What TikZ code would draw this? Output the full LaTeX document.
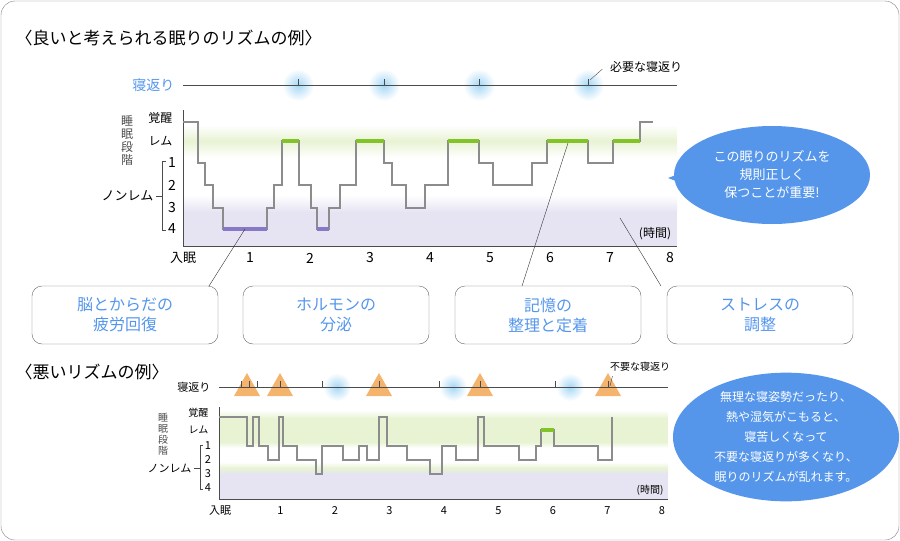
\documentclass[tikz,border=0pt]{standalone}
\usepackage{fontspec}
\setmainfont{Noto Sans CJK JP}
\usetikzlibrary{shapes.geometric}
\definecolor{skyblue}{RGB}{85,150,235}
\definecolor{remgreen}{RGB}{130,195,40}
\definecolor{deepgray}{RGB}{140,140,140}
\definecolor{lilac}{RGB}{135,120,200}
\definecolor{tricolor}{RGB}{245,180,110}
\definecolor{paleband}{RGB}{232,243,212}
\definecolor{deepband}{RGB}{230,228,243}
\definecolor{glowblue}{RGB}{165,215,245}
\tikzset{
  stepline/.style={draw=deepgray, line width=1.3pt},
  axisline/.style={draw=black!70, line width=0.8pt},
  infobox/.style={draw=black!60, rounded corners=10pt, minimum width=186pt,
    minimum height=58pt, align=center, font=\fontsize{16}{20}\selectfont, text=skyblue},
  callout/.style={ellipse, fill=skyblue, text=white, align=center, inner sep=0pt},
  glow/.style={inner color=glowblue, outer color=white},
}
\begin{document}
\begin{tikzpicture}[x=1pt, y=-1pt]
    \useasboundingbox (0,0) rectangle (900,541);
    % frame
    \draw[black!50, rounded corners=14pt] (1,1) rectangle (899,540);

    % ===== good rhythm =====
    \node[anchor=west, font=\fontsize{17}{20}\selectfont] (goodtitle) at (12,38) {〈良いと考えられる眠りのリズムの例〉};

    % bands
    \shade[top color=white, bottom color=paleband] (183,125) rectangle (677,141);
    \shade[top color=paleband, bottom color=white] (183,141) rectangle (677,158);
    \shade[top color=white, bottom color=deepband] (183,195) rectangle (677,212);
    \fill[deepband] (183,212) rectangle (677,246);

    % turnovers
    \foreach \x in {298,384,479,588} \shade[glow] (\x,85) circle (16pt);
    \draw[axisline] (183,85) -- (677,85);
    \foreach \x in {298,384,479,588} \draw[axisline] (\x,79) -- (\x,85);
    \node[anchor=east, text=skyblue, font=\fontsize{14}{16}\selectfont] (turnlabel) at (178,85) {寝返り};
    \node[font=\fontsize{12}{14}\selectfont] (needed) at (646,67) {必要な寝返り};
    \draw[black!70] (needed.west) ++(-4,2) -- (590,80);

    % stage labels
    \node[font=\fontsize{12}{13}\selectfont, align=center, text=black!70, inner sep=0pt] (stage) at (127,140) {睡\\眠\\段\\階};
    \node[anchor=east, font=\fontsize{12}{14}\selectfont] at (176,118) {覚醒};
    \node[anchor=east, font=\fontsize{12}{14}\selectfont] at (176,141) {レム};
    \foreach \n/\y in {1/163,2/185,3/208,4/229}
        \node[font=\fontsize{14}{16}\selectfont] at (172,\y) {\n};
    \draw[black!70] (166,161) -- (162,161) -- (162,230) -- (166,230);
    \draw[black!70] (156,196) -- (162,196);
    \node[anchor=east, font=\fontsize{13}{15}\selectfont] (nonrem) at (157,196) {ノンレム};

    % axes
    \draw[axisline] (183,110) -- (183,246) -- (677,246);
    \node[font=\fontsize{13}{15}\selectfont] at (183,258) {入眠};
    \foreach \h in {1,...,8}
        \node[font=\fontsize{14}{16}\selectfont] at (190+60*\h,258) {\h};
    \node[font=\fontsize{12}{14}\selectfont] at (655,234) {(時間)};

    % sleep curve
    \draw[stepline] (183,122) -| (198,163) -| (205,185) -| (213,208) -| (223,229)
        -| (267,208) -| (274,185) -| (282,141) -| (299,185) -| (311,208) -| (317,229)
        -| (329,208) -| (340,185) -| (356,141) -| (384,163) -| (392,185) -| (406,208)
        -| (425,185) -| (448,141) -| (479,163) -| (493,185) -| (532,163) -| (547,141)
        -| (588,163) -| (613,141) -| (640,122) -- (653,122);
    \foreach \a/\b in {282/299,356/384,448/479,547/588,613/640}
        \draw[remgreen, line width=4pt] (\a,141) -- (\b,141);
    \foreach \a/\b in {223/267,317/329}
        \draw[lilac, line width=4pt] (\a,229) -- (\b,229);

    % boxes
    \node[infobox] (fatigue) at (125,315) {脳とからだの\\疲労回復};
    \node[infobox] (hormone) at (336,315) {ホルモンの\\分泌};
    \node[infobox] (memory) at (548,315) {記憶の\\整理と定着};
    \node[infobox] (stress) at (760,315) {ストレスの\\調整};
    \coordinate (deep) at (245,229);
    \coordinate (rem) at (568,143);
    \coordinate (light) at (620,218);
    \draw[black!80] (deep) -- (209,286);
    \draw[black!80] (rem) -- (522,286);
    \draw[black!80] (light) -- (661,286);

    % callout
    \fill[skyblue] (668,178) -- (716,160) -- (716,196) -- cycle;
    \node[callout, minimum width=196pt, minimum height=98pt,
          font=\fontsize{13}{18}\selectfont] (goodnote) at (772,175)
          {この眠りのリズムを\\規則正しく\\保つことが重要!};

    % ===== bad rhythm =====
    \node[anchor=west, font=\fontsize{17}{20}\selectfont] (badtitle) at (12,372) {〈悪いリズムの例〉};

    \shade[top color=white, bottom color=paleband] (219,410) rectangle (668,418);
    \fill[paleband] (219,418) rectangle (668,442);
    \shade[top color=paleband, bottom color=white] (219,442) rectangle (668,448);
    \shade[top color=white, bottom color=paleband] (219,462) rectangle (668,468);
    \shade[top color=paleband, bottom color=deepband] (219,468) rectangle (668,474);
    \fill[deepband] (219,474) rectangle (668,499);

    \foreach \x in {337,453,570} \shade[glow] (\x,387) circle (14pt);
    \foreach \x in {247,280,379,480,608}
        \fill[tricolor] (\x,373) -- (\x+13,396) -- (\x-13,396) -- cycle;
    \draw[axisline] (219,387) -- (668,387);
    \foreach \x in {241,249,257,280,322,379,439,480,555,608}
        \draw[axisline] (\x,381) -- (\x,387);
    \node[anchor=east, font=\fontsize{11}{13}\selectfont] (badturn) at (214,387) {寝返り};
    \node[font=\fontsize{10}{12}\selectfont] (needless) at (640,367) {不要な寝返り};
    \draw[black!70] (needless.south west) ++(6,1) -- (610,386);

    \node[font=\fontsize{10}{11}\selectfont, align=center, text=black!70, inner sep=0pt] (badstage) at (163,434) {睡\\眠\\段\\階};
    \node[anchor=east, font=\fontsize{10}{12}\selectfont] at (212,413) {覚醒};
    \node[anchor=east, font=\fontsize{10}{12}\selectfont] at (212,430) {レム};
    \foreach \n/\y in {1/446,2/460,3/474,4/488}
        \node[font=\fontsize{11}{13}\selectfont] at (208,\y) {\n};
    \draw[black!70] (203,445) -- (200,445) -- (200,489) -- (203,489);
    \draw[black!70] (194,468) -- (200,468);
    \node[anchor=east, font=\fontsize{11}{13}\selectfont] (badnonrem) at (195,468) {ノンレム};

    \draw[axisline] (219,407) -- (219,499) -- (668,499);
    \node[font=\fontsize{11}{13}\selectfont] at (220,511) {入眠};
    \foreach \h in {1,...,8}
        \node[font=\fontsize{11}{13}\selectfont] at (226+54.5*\h,511) {\h};
    \node[font=\fontsize{10}{12}\selectfont] at (650,490) {(時間)};

    \draw[stepline] (219,417) -| (247,446) -| (253,417) -| (259,446) -| (268,460)
        -| (279,417) -| (283,446) -| (297,460) -| (316,474) -| (322,446) -| (343,460)
        -| (359,446) -| (367,460) -| (379,417) -| (387,446) -| (407,460) -| (430,474)
        -| (442,446) -| (456,460) -| (478,417) -| (484,446) -| (519,460) -| (536,446)
        -| (541,430) -| (554,446) -| (598,460) -| (612,417);
    \draw[remgreen, line width=3.5pt] (541,430) -- (554,430);

    \fill[skyblue] (690,440) -- (730,424) -- (730,456) -- cycle;
    \node[callout, minimum width=226pt, minimum height=126pt,
          font=\fontsize{12}{20}\selectfont] (badnote) at (786,437)
          {無理な寝姿勢だったり、\\熱や湿気がこもると、\\寝苦しくなって\\不要な寝返りが多くなり、\\眠りのリズムが乱れます。};
\end{tikzpicture}
\end{document}
